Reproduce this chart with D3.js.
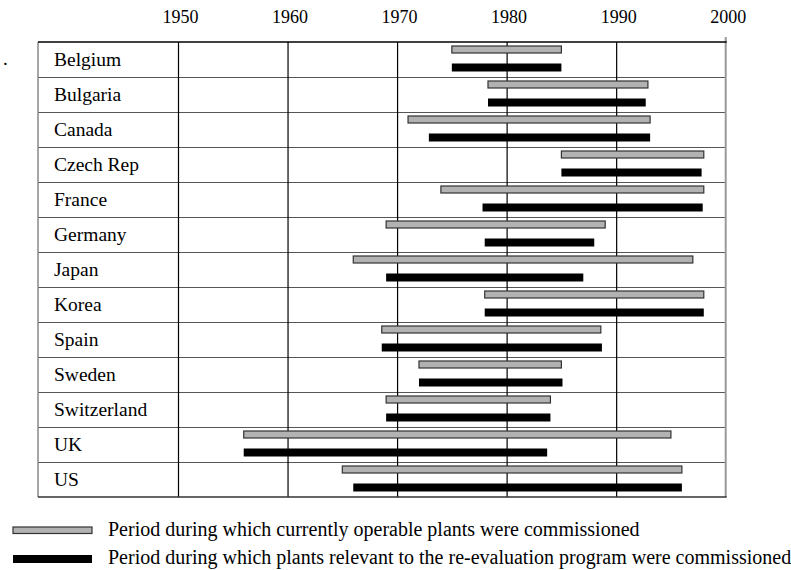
<!DOCTYPE html>
<html>
<head>
<meta charset="utf-8">
<script src="https://cdn.jsdelivr.net/npm/d3@7/dist/d3.min.js"></script>
<style>
    body { margin: 0; background: #fff; }
    svg { display: block; }
</style>
</head>
<body>
<svg id="chart" width="791" height="570"></svg>
<script>
// chart data
const countries = ['Belgium', 'Bulgaria', 'Canada', 'Czech Rep', 'France', 'Germany', 'Japan',
    'Korea', 'Spain', 'Sweden', 'Switzerland', 'UK', 'US'];
const operableStart = [1975, 1978.3, 1971, 1985, 1974, 1969, 1966, 1978, 1968.6, 1972, 1969, 1956, 1965];
const operableEnd = [1985, 1992.9, 1993.1, 1998, 1998, 1989, 1997, 1998, 1988.6, 1985, 1984, 1995, 1996];
const reevalStart = [1975, 1978.3, 1972.9, 1985, 1977.8, 1978, 1969, 1978, 1968.6, 1972, 1969, 1956, 1966];
const reevalEnd = [1985, 1992.7, 1993.1, 1997.8, 1997.9, 1988, 1987, 1998, 1988.7, 1985.1, 1984, 1983.7, 1996];
const years = [1950, 1960, 1970, 1980, 1990, 2000];
const legendLabels = [
    'Period during which currently operable plants were commissioned',
    'Period during which plants relevant to the re-evaluation program were commissioned'
];

const FONT = '"Liberation Serif", "Times New Roman", serif';
const svg = d3.select('#chart');

const tableLeft = 38, plotLeft = 178, plotRight = 725.7;
const tableTop = 42, tableBottom = 497;

const x = d3.scaleLinear().domain([1950, 2000]).range([plotLeft, plotRight]);
const y = d3.scaleBand().domain(countries).range([tableTop, tableBottom]).paddingInner(0);

const rows = countries.map(function (c, i) {
    return { name: c, op: [operableStart[i], operableEnd[i]], re: [reevalStart[i], reevalEnd[i]] };
});

// horizontal row lines
svg.append('g')
    .selectAll('line')
    .data(countries.slice(1))
    .enter()
    .append('line')
    .attr('x1', tableLeft)
    .attr('x2', plotRight)
    .attr('y1', function (d) { return y(d) + 0.5; })
    .attr('y2', function (d) { return y(d) + 0.5; })
    .attr('stroke', '#555')
    .attr('stroke-width', 1.2);

// vertical grid lines (years)
const grid = svg.append('g')
    .attr('transform', 'translate(0,' + tableTop + ')')
    .call(d3.axisBottom(x).tickValues(years.slice(0, -1)).tickSize(tableBottom - tableTop).tickFormat(''));
grid.select('.domain').remove();
grid.selectAll('line').attr('stroke', '#000').attr('stroke-width', 1.2);

// table frame
svg.append('line').attr('x1', tableLeft).attr('x2', tableLeft).attr('y1', tableTop).attr('y2', tableBottom)
    .attr('stroke', '#888').attr('stroke-width', 1.5);
svg.append('line').attr('x1', plotRight).attr('x2', plotRight).attr('y1', tableTop - 5).attr('y2', tableBottom)
    .attr('stroke', '#999').attr('stroke-width', 2);
svg.append('line').attr('x1', tableLeft).attr('x2', plotRight + 1).attr('y1', tableTop).attr('y2', tableTop)
    .attr('stroke', '#000').attr('stroke-width', 1.3);
svg.append('line').attr('x1', tableLeft).attr('x2', plotRight + 1).attr('y1', tableBottom).attr('y2', tableBottom)
    .attr('stroke', '#333').attr('stroke-width', 1.5);

// year labels on top
const axisTop = svg.append('g')
    .attr('transform', 'translate(2,' + tableTop + ')')
    .call(d3.axisTop(x).tickValues(years).tickSize(0).tickPadding(19).tickFormat(d3.format('d')));
axisTop.select('.domain').remove();
axisTop.selectAll('text')
    .attr('font-family', FONT)
    .attr('font-size', '18px')
    .attr('fill', '#000');

// country names
svg.append('g')
    .selectAll('text')
    .data(countries)
    .enter()
    .append('text')
    .attr('x', 54)
    .attr('y', function (d) { return y(d) + 24; })
    .attr('font-family', FONT)
    .attr('font-size', '19.5px')
    .attr('fill', '#000')
    .text(function (d) { return d; });

// stray dot in the source
svg.append('text').attr('x', 3).attr('y', 65).attr('font-family', FONT)
    .attr('font-size', '19px').text('.');

// bars: grey = currently operable, black = re-evaluation program
svg.append('g')
    .selectAll('rect')
    .data(rows)
    .enter()
    .append('rect')
    .attr('x', function (d) { return x(d.op[0]); })
    .attr('width', function (d) { return x(d.op[1]) - x(d.op[0]); })
    .attr('y', function (d) { return y(d.name) + 4; })
    .attr('height', 7)
    .attr('fill', '#b2b2b2')
    .attr('stroke', '#333')
    .attr('stroke-width', 1.2);

svg.append('g')
    .selectAll('rect')
    .data(rows)
    .enter()
    .append('rect')
    .attr('x', function (d) { return x(d.re[0]); })
    .attr('width', function (d) { return x(d.re[1]) - x(d.re[0]); })
    .attr('y', function (d) { return y(d.name) + 21.5; })
    .attr('height', 8)
    .attr('fill', '#000');

// legend
const legend = svg.append('g')
    .selectAll('g')
    .data(legendLabels)
    .enter()
    .append('g')
    .attr('transform', function (d, i) { return 'translate(0,' + (i * 28) + ')'; });

legend.append('rect')
    .attr('x', 13)
    .attr('y', 527)
    .attr('width', 79)
    .attr('height', function (d, i) { return i === 0 ? 6.5 : 8; })
    .attr('fill', function (d, i) { return i === 0 ? '#b2b2b2' : '#000'; })
    .attr('stroke', function (d, i) { return i === 0 ? '#333' : 'none'; })
    .attr('stroke-width', 1.2);

legend.append('text')
    .attr('x', 108)
    .attr('y', 536)
    .attr('font-family', FONT)
    .attr('font-size', '20px')
    .attr('fill', '#000')
    .text(function (d) { return d; });
</script>
</body>
</html>
